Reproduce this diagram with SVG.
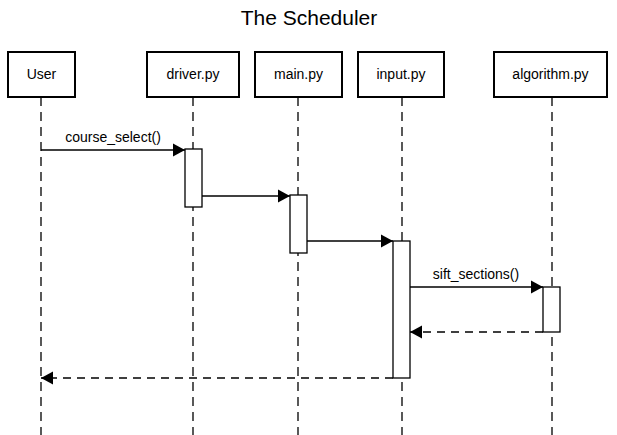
<svg xmlns="http://www.w3.org/2000/svg" width="617" height="435" viewBox="0 0 617 435">
<style>
.box{fill:#fff;stroke:#000;stroke-width:2}
.act{fill:#fff;stroke:#000;stroke-width:1.3}
.life{stroke:#000;stroke-width:1.3;stroke-dasharray:9 6;fill:none}
.msg{stroke:#000;stroke-width:1.3;fill:none}
.ret{stroke:#000;stroke-width:1.3;fill:none;stroke-dasharray:8 6}
text{font-family:"Liberation Sans",Arial,sans-serif;fill:#000}
.lbl{font-size:14px;text-anchor:middle}
.title{font-size:21px;text-anchor:middle}
</style>
<defs>
<marker id="ah" markerWidth="13" markerHeight="14" refX="12" refY="7" orient="auto" markerUnits="userSpaceOnUse">
<path d="M0,0.5 L12,7 L0,13.5 Z" fill="#000"/>
</marker>
</defs>
<rect width="617" height="435" fill="#fff"/>
<text class="title" x="309" y="25">The Scheduler</text>
<g id="lifelines">
<line class="life" x1="41" y1="97" x2="41" y2="435"/>
<line class="life" x1="193" y1="97" x2="193" y2="435"/>
<line class="life" x1="298" y1="97" x2="298" y2="435"/>
<line class="life" x1="402" y1="97" x2="402" y2="435"/>
<line class="life" x1="552" y1="97" x2="552" y2="435"/>
</g>
<g id="user"><rect class="box" x="8" y="52" width="67" height="45"/><text class="lbl" x="41.5" y="79">User</text></g>
<g id="driver"><rect class="box" x="147" y="52" width="92" height="45"/><text class="lbl" x="193" y="79">driver.py</text></g>
<g id="main"><rect class="box" x="255" y="52" width="87" height="45"/><text class="lbl" x="298.5" y="79">main.py</text></g>
<g id="input"><rect class="box" x="358" y="52" width="86" height="45"/><text class="lbl" x="401" y="79">input.py</text></g>
<g id="algorithm"><rect class="box" x="494" y="52" width="113" height="45"/><text class="lbl" x="550.5" y="79">algorithm.py</text></g>
<g id="activations">
<rect class="act" x="185" y="149" width="17" height="58"/>
<rect class="act" x="290" y="195" width="17" height="58"/>
<rect class="act" x="393" y="241" width="17" height="137"/>
<rect class="act" x="543" y="287" width="17" height="45"/>
</g>
<g id="connectors">
<line class="msg" x1="41" y1="150" x2="185" y2="150" marker-end="url(#ah)"/>
<text class="lbl" x="113" y="142">course_select()</text>
<line class="msg" x1="202" y1="196" x2="290" y2="196" marker-end="url(#ah)"/>
<line class="msg" x1="307" y1="241" x2="393" y2="241" marker-end="url(#ah)"/>
<line class="msg" x1="410" y1="287" x2="543" y2="287" marker-end="url(#ah)"/>
<text class="lbl" x="476" y="279">sift_sections()</text>
<line class="ret" x1="543" y1="332" x2="410" y2="332" marker-end="url(#ah)"/>
<line class="ret" x1="393" y1="378" x2="41" y2="378" marker-end="url(#ah)"/>
</g>
</svg>
